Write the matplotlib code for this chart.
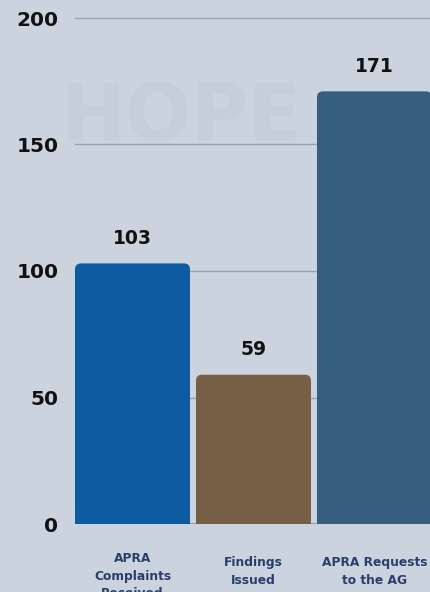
import matplotlib.pyplot as plt
from matplotlib.patches import FancyBboxPatch

categories = ["APRA\nComplaints\nReceived", "Findings\nIssued", "APRA Requests\nto the AG"]
values = [103, 59, 171]
colors = ["#0e5ba1", "#765f45", "#365d7e"]
yticks = [0, 50, 100, 150, 200]

bg = "#cbd4de"
fig = plt.figure(figsize=(4.31, 5.92), dpi=100, facecolor=bg)
ax = fig.add_axes([75 / 431, 68 / 592, 356 / 431, 506 / 592])
ax.set_facecolor(bg)

# faint watermark
fig.text(0.42, 0.80, "HOPE", fontsize=56, fontweight="bold", color="#c5ced9",
         ha="center", va="center", zorder=0)

ax.set_xlim(-0.475, 2.467)
ax.set_ylim(0, 200)

for y in yticks[1:]:
    ax.axhline(y, color="#9aa3ae", lw=1, zorder=1, clip_on=False)
ax.axhline(0, color="#8a929c", lw=1.2, zorder=1)

width = 0.95
# rounding radius in pixels -> data units
px_x = 2.942 / 356
px_y = 200 / 506
r = 6
for i, (v, c) in enumerate(zip(values, colors)):
    ax.bar(i, v - r * px_y, width=width, color=c, zorder=2)
    patch = FancyBboxPatch((i - width / 2, 0), width, v,
                           boxstyle=f"round,pad=0,rounding_size={r * px_x}",
                           mutation_aspect=px_y / px_x,
                           facecolor=c, edgecolor="none", zorder=2)
    ax.add_patch(patch)
    ax.annotate(str(v), (i, v), xytext=(0, 18), textcoords="offset points",
                ha="center", va="center", fontsize=13.5, fontweight="bold",
                color="#111111", zorder=3)

for s in ax.spines.values():
    s.set_visible(False)
ax.set_xticks([])
ax.set_yticks(yticks)
ax.set_yticklabels([str(t) for t in yticks], fontsize=14.5, fontweight="bold", color="#111111")
ax.tick_params(axis="y", length=0, pad=12)

tops = [-0.056, -0.064, -0.064]
for i, (lab, t) in enumerate(zip(categories, tops)):
    ax.text(i, t, lab, transform=ax.get_xaxis_transform(), ha="center", va="top",
            fontsize=8.8, fontweight="bold", color="#2b3d6b", linespacing=1.45,
            clip_on=False)

fig.savefig("out.png", dpi=100, facecolor=bg)
